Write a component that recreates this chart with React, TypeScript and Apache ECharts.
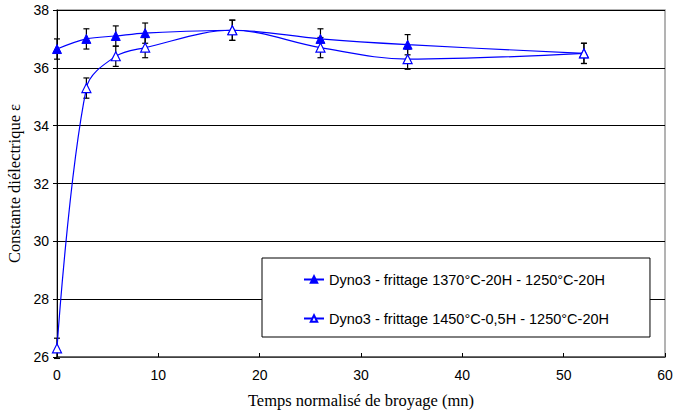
import React, { useEffect, useRef } from "react";
import * as echarts from "echarts";

const timeValues = [0, 2.9, 5.8, 8.7, 17.3, 26, 34.6, 52];
const series1Values = [36.65, 37.0, 37.1, 37.2, 37.3, 37.0, 36.8, 36.5];
const series2Values = [26.3, 35.3, 36.4, 36.7, 37.3, 36.7, 36.3, 36.5];
const series1Errors = [0.35, 0.35, 0.35, 0.35, 0.35, 0.35, 0.35, 0.35];
const series2Errors = [0.35, 0.35, 0.35, 0.35, 0.35, 0.35, 0.35, 0.35];
const series1Name = "Dyno3 - frittage 1370°C-20H - 1250°C-20H";
const series2Name = "Dyno3 - frittage 1450°C-0,5H - 1250°C-20H";
const xAxisTitle = "Temps normalisé de broyage (mn)";
const yAxisTitle = "Constante diélectrique ε";

const BLUE = "#0000ff";
const SANS = "Arial";
const SERIF = "Times New Roman";

function errorData(vals: number[], errs: number[]) {
  return timeValues.map((t, i) => [t, vals[i] - errs[i], vals[i] + errs[i]]);
}

function renderError(params: any, api: any) {
  const x = api.value(0);
  const lo = api.coord([x, api.value(1)]);
  const hi = api.coord([x, api.value(2)]);
  const hw = 3;
  const style = { stroke: "#000", lineWidth: 1.2 };
  return {
    type: "group",
    children: [
      { type: "line", shape: { x1: lo[0], y1: lo[1], x2: hi[0], y2: hi[1] }, style },
      { type: "line", shape: { x1: lo[0] - hw, y1: lo[1], x2: lo[0] + hw, y2: lo[1] }, style },
      { type: "line", shape: { x1: hi[0] - hw, y1: hi[1], x2: hi[0] + hw, y2: hi[1] }, style },
    ],
  };
}

export default function App() {
  const ref = useRef<HTMLDivElement>(null);
  useEffect(() => {
    document.body.style.margin = "0";
    const chart = echarts.init(ref.current!, null, { renderer: "svg" });
    chart.setOption({
      animation: false,
      backgroundColor: "#fff",
      textStyle: { fontFamily: SANS },
      grid: {
        left: 57,
        top: 10,
        right: 26,
        bottom: 60,
        outerBoundsMode: "none",
        containLabel: false,
        show: true,
        borderColor: "#9a9a9a",
        borderWidth: 1.5,
      },
      legend: {
        show: true,
        orient: "vertical",
        left: 262,
        top: 258,
        padding: [14, 41, 11, 41],
        itemGap: 24,
        itemWidth: 20,
        itemHeight: 8,
        backgroundColor: "#fff",
        borderColor: "#000",
        borderWidth: 1,
        textStyle: { fontSize: 14.5, color: "#000", fontFamily: SANS },
        data: [series1Name, series2Name],
      },
      xAxis: {
        type: "value",
        min: 0,
        max: 60,
        interval: 10,
        name: xAxisTitle,
        nameLocation: "middle",
        nameGap: 35,
        nameTextStyle: { fontFamily: SERIF, fontSize: 16.5, color: "#000" },
        axisLine: { show: true, onZero: false, lineStyle: { color: "#555", width: 1.5 } },
        axisTick: { show: true, inside: true, length: 4, lineStyle: { color: "#000" } },
        axisLabel: { fontSize: 14, color: "#000", margin: 11, fontFamily: SANS },
        splitLine: { show: false },
      },
      yAxis: {
        type: "value",
        min: 26,
        max: 38,
        interval: 2,
        name: yAxisTitle,
        nameLocation: "middle",
        nameGap: 30,
        nameTextStyle: { fontFamily: SERIF, fontSize: 16.5, color: "#000" },
        axisLine: { show: true, lineStyle: { color: "#000", width: 1 } },
        axisTick: { show: true, inside: false, length: 4, lineStyle: { color: "#000" } },
        axisLabel: { fontSize: 14, color: "#000", margin: 8, fontFamily: SANS },
        splitLine: { show: true, lineStyle: { color: "#000", width: 1 } },
      },
      series: [
        {
          type: "custom",
          name: "err1",
          renderItem: renderError,
          data: errorData(series1Values, series1Errors),
          z: 1,
          silent: true,
        },
        {
          type: "custom",
          name: "err2",
          renderItem: renderError,
          data: errorData(series2Values, series2Errors),
          z: 1,
          silent: true,
        },
        {
          type: "line",
          name: series1Name,
          data: timeValues.map((t, i) => [t, series1Values[i]]),
          smooth: 0.35,
          symbol: "triangle",
          symbolSize: 9,
          lineStyle: { color: BLUE, width: 1.2 },
          itemStyle: { color: BLUE, borderColor: BLUE, borderWidth: 1 },
          z: 3,
        },
        {
          type: "line",
          name: series2Name,
          data: timeValues.map((t, i) => [t, series2Values[i]]),
          smooth: 0.35,
          symbol: "triangle",
          symbolSize: 9,
          lineStyle: { color: BLUE, width: 1.2 },
          itemStyle: { color: "#fff", borderColor: BLUE, borderWidth: 1.2 },
          z: 3,
        },
      ],
    });
    return () => chart.dispose();
  }, []);
  return <div ref={ref} style={{ width: 691, height: 417 }} />;
}
